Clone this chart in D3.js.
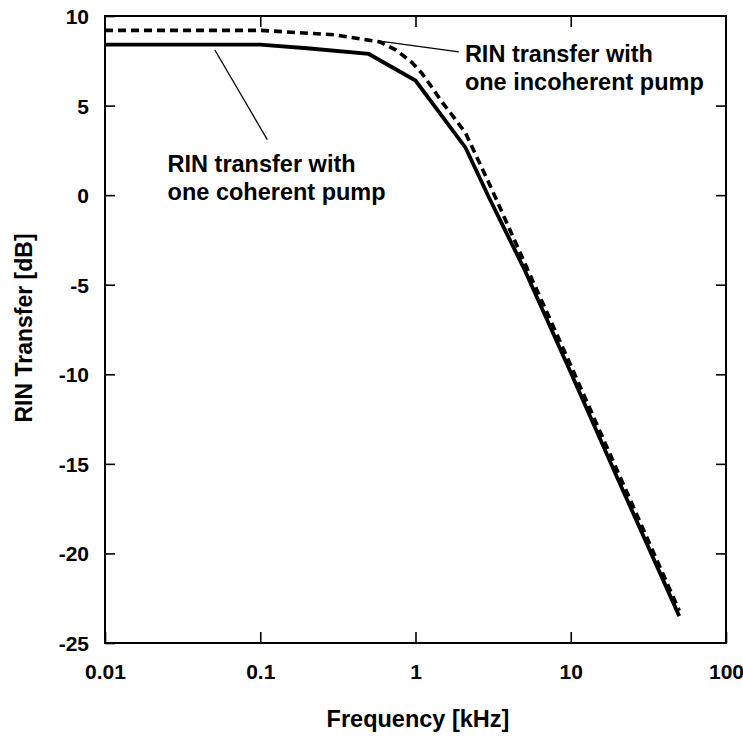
<!DOCTYPE html>
<html>
<head>
<meta charset="utf-8">
<script src="https://cdn.jsdelivr.net/npm/d3@7"></script>
<style>
  html, body { margin: 0; padding: 0; background: #fff; }
  svg { display: block; }
  text { font-family: Arial, "Liberation Sans", Helvetica, sans-serif; font-weight: bold; fill: #000; }
</style>
</head>
<body>
<svg id="chart" width="743" height="738"></svg>
<script>
// Frequency axis ticks (kHz) and RIN transfer axis ticks (dB)
const freqTicks = [0.01, 0.1, 1, 10, 100];
const freqTickLabels = ["0.01", "0.1", "1", "10", "100"];
const dbTicks = [-25, -20, -15, -10, -5, 0, 5, 10];

// RIN transfer with one coherent pump (solid)
const coherentFreq = [0.01, 0.1, 0.2, 0.5, 1.0, 2.1, 3.0, 5.0, 10, 20, 50];
const coherentDb   = [8.4, 8.4, 8.2, 7.88, 6.4, 2.65, -0.2, -4.1, -9.9, -15.8, -23.5];

// RIN transfer with one incoherent pump (dashed)
const incoherentFreq = [0.01, 0.1, 0.3, 0.59, 0.75, 0.95, 1.1, 1.28, 1.48, 1.76, 2.1, 3.0, 5.0, 10, 20, 50];
const incoherentDb   = [9.2, 9.2, 8.95, 8.55, 8.1, 7.4, 6.8, 6.0, 5.2, 4.36, 3.47, 0.6, -3.7, -9.5, -15.4, -23.2];

// Callout texts
const incoherentLabel = ["RIN transfer with", "one incoherent pump"];
const coherentLabel = ["RIN transfer with", "one coherent pump"];

const svg = d3.select("#chart");
const plotL = 105, plotR = 726, plotT = 16, plotB = 643;

const x = d3.scaleLog().domain([0.01, 100]).range([plotL, plotR]);
const y = d3.scaleLinear().domain([-25, 10]).range([plotB, plotT]);

// Axes with inward ticks on all four sides
const axisFont = "21px";
const gB = svg.append("g").attr("transform", `translate(0,${plotB})`)
  .call(d3.axisBottom(x).tickValues(freqTicks).tickFormat((d, i) => freqTickLabels[i])
    .tickSize(-11).tickPadding(21));
const gT = svg.append("g").attr("transform", `translate(0,${plotT})`)
  .call(d3.axisTop(x).tickValues(freqTicks.slice(1, -1)).tickFormat("").tickSize(-11));
const gL = svg.append("g").attr("transform", `translate(${plotL},0)`)
  .call(d3.axisLeft(y).tickValues(dbTicks).tickFormat(d => String(d)).tickSize(-10).tickPadding(16));
const gR = svg.append("g").attr("transform", `translate(${plotR},0)`)
  .call(d3.axisRight(y).tickValues(dbTicks.slice(1, -1)).tickFormat("").tickSize(-10));

[gB, gT, gL, gR].forEach(g => {
  g.select(".domain").remove();
  g.selectAll(".tick line").attr("stroke", "#000").attr("stroke-width", 1.6);
  g.selectAll(".tick text").style("font-size", axisFont).style("font-weight", "bold")
    .style("font-family", "Arial, 'Liberation Sans', sans-serif").attr("fill", "#000");
});
gL.selectAll(".tick text").attr("dy", "0.36em");

// Plot frame
svg.append("rect")
  .attr("x", plotL).attr("y", plotT)
  .attr("width", plotR - plotL).attr("height", plotB - plotT)
  .attr("fill", "none").attr("stroke", "#000").attr("stroke-width", 2);

// Curves
const line = d3.line().x(d => x(d[0])).y(d => y(d[1])).curve(d3.curveLinear);

svg.append("path")
  .datum(d3.zip(incoherentFreq, incoherentDb))
  .attr("d", line)
  .attr("fill", "none").attr("stroke", "#000")
  .attr("stroke-width", 3.6).attr("stroke-dasharray", "8,5");

svg.append("path")
  .datum(d3.zip(coherentFreq, coherentDb))
  .attr("d", line)
  .attr("fill", "none").attr("stroke", "#000")
  .attr("stroke-width", 3.8);

// Callout leader lines, anchored in data units
const leaders = [
  { from: [0.59, 8.6], to: [1.9, 8.0] },
  { from: [0.051, 8.1], to: [0.111, 3.1] }
];
leaders.forEach(l => {
  svg.append("line")
    .attr("x1", x(l.from[0])).attr("y1", y(l.from[1]))
    .attr("x2", x(l.to[0])).attr("y2", y(l.to[1]))
    .attr("stroke", "#000").attr("stroke-width", 1.3);
});

// Callout texts
function callout(lines, fx, dbv) {
  const t = svg.append("text")
    .attr("x", x(fx)).attr("y", y(dbv))
    .style("font-size", "23.5px");
  lines.forEach((s, i) => {
    t.append("tspan").attr("x", x(fx)).attr("dy", i === 0 ? 0 : 28).text(s);
  });
}
callout(incoherentLabel, 2.08, 7.43);
callout(coherentLabel, 0.0253, 1.29);

// Axis titles
svg.append("text")
  .attr("x", 418).attr("y", 727)
  .attr("text-anchor", "middle")
  .style("font-size", "23.5px")
  .text("Frequency [kHz]");

svg.append("text")
  .attr("transform", "translate(32,328) rotate(-90)")
  .attr("text-anchor", "middle")
  .style("font-size", "23px")
  .text("RIN Transfer [dB]");
</script>
</body>
</html>
